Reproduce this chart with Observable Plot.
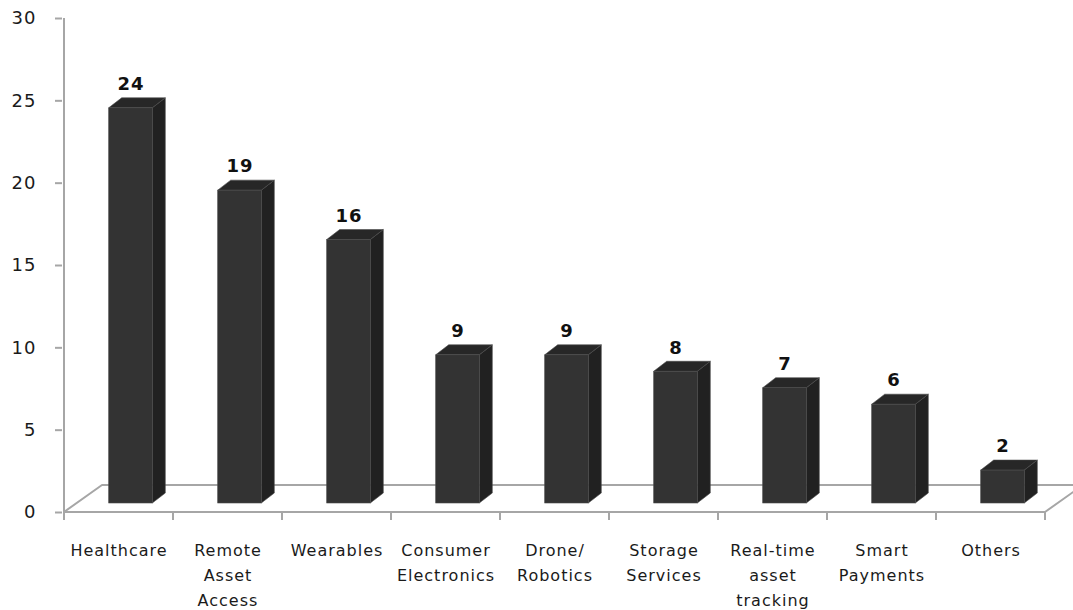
<!DOCTYPE html>
<html>
<head>
<meta charset="utf-8">
<script src="https://cdn.jsdelivr.net/npm/d3@7"></script>
<script src="https://cdn.jsdelivr.net/npm/@observablehq/plot@0.6"></script>
<style>
  html, body { margin: 0; padding: 0; background: #ffffff; }
  #chart { width: 1073px; height: 610px; }
</style>
</head>
<body>
<div id="chart"></div>
<script>
// ---- data ----
const categories = [
  "Healthcare",
  "Remote\nAsset\nAccess",
  "Wearables",
  "Consumer\nElectronics",
  "Drone/\nRobotics",
  "Storage\nServices",
  "Real-time\nasset\ntracking",
  "Smart\nPayments",
  "Others"
];
const values = [24, 19, 16, 9, 9, 8, 7, 6, 2];
const yTicks = [0, 5, 10, 15, 20, 25, 30];

const data = categories.map((c, i) => ({category: c, value: values[i]}));

// ---- 3D styling (pixel offsets) ----
const FRONT = {dx: 12, dy: -9};     // bar front face offset from floor front edge
const DEPTH = {dx: 13, dy: -10};    // bar depth
const FLOOR = {dx: 38, dy: -27};    // floor depth
const BAR_FRACTION = 0.4;
const GRID = "#a6a6a6";
const C_FRONT = "#333333", C_SIDE = "#212121", C_TOP = "#272727";

function bars3d(index, scales, channels, dimensions, context) {
  const x = scales.x, y = scales.y;
  const bw = x.bandwidth();
  const w = bw * BAR_FRACTION;
  const y0 = y(0);
  const left = x(categories[0]);
  const right = x(categories[categories.length - 1]) + bw;
  const g = d3.create("svg:g");

  // y axis line
  g.append("line")
    .attr("x1", left).attr("x2", left)
    .attr("y1", y(yTicks[yTicks.length - 1])).attr("y2", y0)
    .attr("stroke", GRID).attr("stroke-width", 2);

  // floor
  g.append("path")
    .attr("d", `M${left},${y0}L${right},${y0}L${right + FLOOR.dx},${y0 + FLOOR.dy}L${left + FLOOR.dx},${y0 + FLOOR.dy}Z`)
    .attr("fill", "none").attr("stroke", GRID).attr("stroke-width", 2)
    .attr("stroke-linejoin", "round");

  // category boundary ticks
  const bounds = categories.map(c => x(c)).concat([right]);
  for (const bx of bounds) {
    g.append("line")
      .attr("x1", bx).attr("x2", bx)
      .attr("y1", y0).attr("y2", y0 + 8)
      .attr("stroke", GRID).attr("stroke-width", 2);
  }

  // bars
  for (const i of index) {
    const d = data[i];
    const xc = x(d.category) + bw / 2;
    const x0 = xc - w / 2 + FRONT.dx;
    const x1 = x0 + w;
    const yb = y0 + FRONT.dy;
    const yt = y(d.value) + FRONT.dy;
    // side
    g.append("path")
      .attr("d", `M${x1},${yt}L${x1 + DEPTH.dx},${yt + DEPTH.dy}L${x1 + DEPTH.dx},${yb + DEPTH.dy}L${x1},${yb}Z`)
      .attr("fill", C_SIDE).attr("stroke", "#4a4a4a").attr("stroke-width", 0.6);
    // top
    g.append("path")
      .attr("d", `M${x0},${yt}L${x0 + DEPTH.dx},${yt + DEPTH.dy}L${x1 + DEPTH.dx},${yt + DEPTH.dy}L${x1},${yt}Z`)
      .attr("fill", C_TOP).attr("stroke", "#4a4a4a").attr("stroke-width", 0.6);
    // front
    g.append("rect")
      .attr("x", x0).attr("y", yt)
      .attr("width", w).attr("height", yb - yt)
      .attr("fill", C_FRONT).attr("stroke", "#4a4a4a").attr("stroke-width", 0.6);
  }
  return g.node();
}

const chart = Plot.plot({
  width: 1073,
  height: 610,
  marginLeft: 62,
  marginRight: 27,
  marginTop: 18,
  marginBottom: 98,
  style: {fontFamily: "'DejaVu Sans', sans-serif", letterSpacing: "1px", background: "#ffffff", overflow: "hidden"},
  x: {type: "band", domain: categories, padding: 0, label: null},
  y: {domain: [0, 30], label: null},
  marks: [
    Plot.axisY({ticks: yTicks, tickSize: 7, tickPadding: 19, stroke: GRID, strokeWidth: 2, fill: "#1a1a1a", fontSize: 18, label: null}),
    Plot.axisX({tickSize: 0, tickPadding: 26, fill: "#1a1a1a", fontSize: 16, lineHeight: 25 / 16, label: null}),
    Plot.barY(data, {x: "category", y: "value", render: bars3d}),
    Plot.text(data, {x: "category", y: "value", text: d => String(d.value), dx: 12, dy: -33, fontWeight: "bold", fontSize: 18, fill: "#111"})
  ]
});

document.getElementById("chart").appendChild(chart);
</script>
</body>
</html>
